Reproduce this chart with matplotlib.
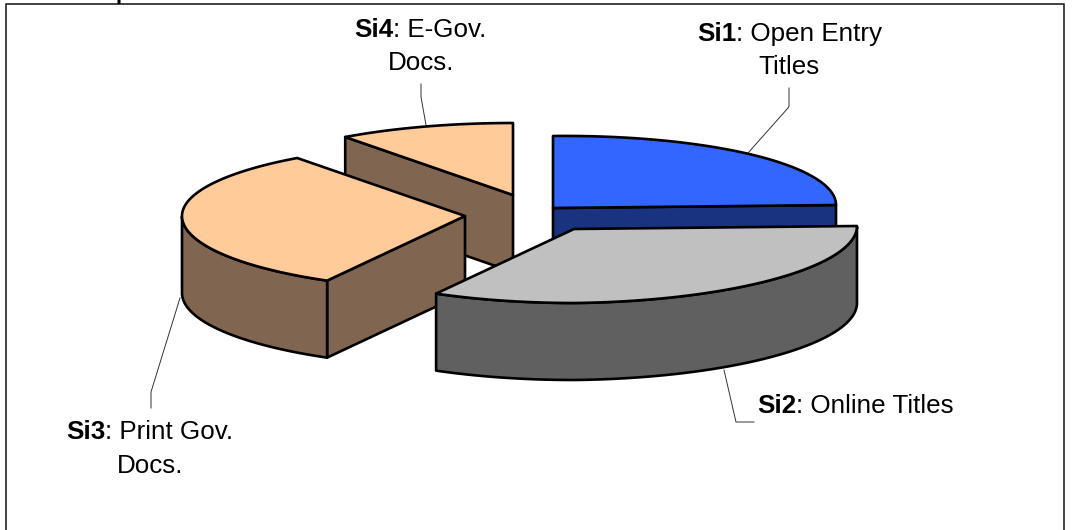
import numpy as np
import matplotlib
matplotlib.use("Agg")
import matplotlib.pyplot as plt

plt.rcParams['font.family'] = ['Liberation Sans', 'DejaVu Sans']

# pie shares in percent, clockwise from 12 o'clock
names = ["Si1", "Si2", "Si3", "Si4"]
shares = [25, 33.1, 31.8, 10.1]
top_colors = ["#3366FF", "#C0C0C0", "#FFCC99", "#FFCC99"]
side_colors = ["#1A3380", "#606060", "#806650", "#806650"]

# exploded slice apex in pixels, back slices drawn first
apex = {"Si4": (513, 195), "Si1": (553, 208), "Si3": (465, 216), "Si2": (574, 229)}
order = ["Si4", "Si1", "Si3", "Si2"]

RX = 283
RY_UP = 72
RY_DOWN = 74
DEPTH = 77
LW = 1.9


def rim(name, theta):
    cx, cy = apex[name]
    dx = RX * np.sin(theta)
    c = np.cos(theta)
    dy = np.where(c > 0, -RY_UP * c, -RY_DOWN * c)
    # chart is drawn with a little perspective on the right hand side
    dy = dy - 0.0106 * np.maximum(dx, 0)
    return cx + dx, cy + dy


fig = plt.figure(figsize=(10.72, 5.30), dpi=100)
ax = fig.add_axes([0, 0, 1, 1])
ax.set_xlim(0, 1072)
ax.set_ylim(530, 0)
ax.axis("off")

# frame, its bottom edge is cut off by the picture
ax.plot([6, 6, 1064, 1064], [531, 3.7, 3.7, 531], color="#333333", lw=1.3, zorder=1)

# clipped descender of the heading above the frame
ax.text(122, -1, "p", fontsize=16, fontweight="bold", ha="center", va="baseline", clip_on=True)

ends = np.cumsum(shares) / np.sum(shares) * 2 * np.pi
starts = np.concatenate([[0], ends[:-1]])
z = 5
for name in order:
    i = names.index(name)
    t0, t1 = starts[i], ends[i]
    th = np.linspace(t0, t1, 200)
    xs, ys = rim(name, th)
    cx, cy = apex[name]

    # straight cut walls facing the viewer
    for t, visible in ((t0, np.sin(t0) < -1e-6), (t1, np.sin(t1) > 1e-6)):
        if visible:
            x1, y1 = rim(name, t)
            ax.fill([cx, x1, x1, cx], [cy, y1, y1 + DEPTH, cy + DEPTH], fc=side_colors[i],
                    ec="black", lw=LW, joinstyle="round", zorder=z)

    # outer wall, only the lower half of the rim can be seen
    front = np.cos(th) <= 0
    if front.any():
        fx, fy = xs[front], ys[front]
        ax.fill(np.r_[fx, fx[::-1]], np.r_[fy, fy[::-1] + DEPTH], fc=side_colors[i],
                ec="black", lw=LW, joinstyle="round", zorder=z)

    ax.fill(np.r_[cx, xs], np.r_[cy, ys], fc=top_colors[i], ec="black", lw=LW,
            joinstyle="round", zorder=z + 1)
    z += 2

# leader lines
leaders = [
    ([748, 788, 789, 789], [153, 108, 106, 88]),
    ([724, 736, 754], [370, 422, 422]),
    ([180, 151, 151], [298, 392, 408]),
    ([426, 421, 421], [125, 97, 84]),
]
for lx, ly in leaders:
    ax.plot(lx, ly, color="#333333", lw=0.7, zorder=2)

# labels, bold name followed by regular text, y is the baseline
FS = 18.7
labels = [
    ("Si1", ": Open Entry", 697, 41, "Titles", 758, 74),
    ("Si2", ": Online Titles", 757, 413, None, 0, 0),
    ("Si3", ": Print Gov.", 66, 439, "Docs.", 117, 473),
    ("Si4", ": E-Gov.", 354, 37, "Docs.", 388, 70),
]
fig.canvas.draw()
rend = fig.canvas.get_renderer()
for bold, rest, x, y, line2, x2, y2 in labels:
    t = ax.text(x, y, bold, fontsize=FS, fontweight="bold", ha="left", va="baseline", zorder=30)
    w = t.get_window_extent(rend).width
    ax.text(x + w, y, rest, fontsize=FS, ha="left", va="baseline", zorder=30)
    if line2:
        ax.text(x2, y2, line2, fontsize=FS, ha="left", va="baseline", zorder=30)

fig.savefig("out.png", dpi=100)
